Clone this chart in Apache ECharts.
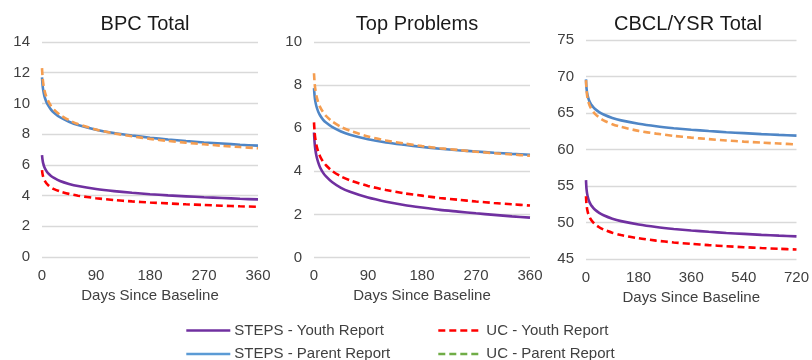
<!DOCTYPE html>
<html><head><meta charset="utf-8">
<script src="https://cdn.jsdelivr.net/npm/echarts@6/dist/echarts.min.js"></script>
<style>html,body{margin:0;padding:0;background:#fff}#c{width:812px;height:360px}</style>
</head><body><div id="c"></div>
<script>
// Panel titles
const titles = ['BPC Total', 'Top Problems', 'CBCL/YSR Total'];
const seriesNames = ['STEPS - Youth Report', 'UC - Youth Report', 'STEPS - Parent Report', 'UC - Parent Report'];
const xTicks1 = [0, 90, 180, 270, 360];
const xTicks3 = [0, 180, 360, 540, 720];

// BPC Total and Top Problems (days since baseline)
const daysA = [0, 1, 2, 4, 7, 10, 15, 20, 30, 45, 60, 90, 120, 150, 180, 210, 240, 270, 300, 330, 360];
const bpcStepsYouth  = [6.64, 6.30, 6.10, 5.85, 5.62, 5.46, 5.28, 5.15, 4.95, 4.76, 4.62, 4.43, 4.29, 4.18, 4.09, 4.01, 3.95, 3.89, 3.84, 3.79, 3.75];
const bpcUcYouth     = [5.66, 5.38, 5.21, 5.01, 4.82, 4.69, 4.53, 4.42, 4.27, 4.11, 3.99, 3.83, 3.71, 3.62, 3.55, 3.49, 3.43, 3.39, 3.34, 3.30, 3.27];
const bpcStepsParent = [11.70, 11.18, 10.87, 10.48, 10.13, 9.89, 9.60, 9.40, 9.10, 8.81, 8.59, 8.29, 8.07, 7.91, 7.77, 7.65, 7.55, 7.46, 7.39, 7.31, 7.25];
const bpcUcParent    = [12.30, 11.69, 11.33, 10.87, 10.46, 10.18, 9.84, 9.60, 9.26, 8.91, 8.66, 8.30, 8.05, 7.86, 7.69, 7.56, 7.44, 7.34, 7.24, 7.16, 7.08];

const tpStepsYouth  = [5.80, 5.34, 5.06, 4.72, 4.41, 4.19, 3.94, 3.76, 3.50, 3.23, 3.05, 2.78, 2.59, 2.44, 2.32, 2.21, 2.13, 2.05, 1.98, 1.91, 1.85];
const tpUcYouth     = [6.27, 5.82, 5.55, 5.22, 4.91, 4.70, 4.45, 4.28, 4.02, 3.76, 3.58, 3.32, 3.13, 2.98, 2.87, 2.76, 2.68, 2.60, 2.53, 2.47, 2.41];
const tpStepsParent = [7.86, 7.50, 7.28, 7.02, 6.77, 6.60, 6.40, 6.26, 6.06, 5.85, 5.70, 5.49, 5.34, 5.23, 5.13, 5.05, 4.98, 4.92, 4.86, 4.81, 4.77];
const tpUcParent    = [8.55, 8.10, 7.84, 7.50, 7.20, 6.99, 6.75, 6.57, 6.32, 6.06, 5.88, 5.62, 5.43, 5.29, 5.17, 5.07, 4.99, 4.91, 4.84, 4.78, 4.72];

// CBCL/YSR Total
const daysC = [0, 1, 2, 4, 7, 10, 15, 20, 30, 45, 60, 90, 120, 180, 240, 300, 360, 420, 480, 540, 600, 660, 720];
const cbStepsYouth  = [55.80, 54.99, 54.51, 53.92, 53.37, 52.99, 52.56, 52.24, 51.78, 51.32, 50.99, 50.52, 50.19, 49.72, 49.38, 49.12, 48.91, 48.73, 48.57, 48.44, 48.31, 48.20, 48.10];
const cbUcYouth     = [53.60, 52.83, 52.38, 51.82, 51.29, 50.94, 50.52, 50.22, 49.79, 49.35, 49.04, 48.60, 48.28, 47.84, 47.52, 47.27, 47.07, 46.90, 46.75, 46.62, 46.50, 46.40, 46.30];
const cbStepsParent = [69.60, 68.79, 68.31, 67.72, 67.17, 66.79, 66.36, 66.04, 65.58, 65.12, 64.79, 64.32, 63.99, 63.52, 63.18, 62.92, 62.71, 62.53, 62.37, 62.24, 62.11, 62.00, 61.90];
const cbUcParent    = [69.50, 68.57, 68.03, 67.35, 66.72, 66.29, 65.79, 65.43, 64.91, 64.38, 64.00, 63.47, 63.09, 62.55, 62.17, 61.87, 61.63, 61.42, 61.24, 61.08, 60.94, 60.82, 60.70];

const FONT = '"Liberation Sans", Arial, sans-serif';
const TXT = '#404040';
const colors = ['#7030a0', '#ff0000', '#4f86c6', '#f59d50'];
const legendColors = ['#7030a0', '#ff0000', '#5b9bd5', '#70ad47'];
const dashed = [false, true, false, true];

const panels = [
  {days: daysA, data: [bpcStepsYouth, bpcUcYouth, bpcStepsParent, bpcUcParent], ymin: 0, ymax: 14, yint: 2, xmax: 360, xint: 90, left: 42, top: 42, h: 215, tc: 145},
  {days: daysA, data: [tpStepsYouth, tpUcYouth, tpStepsParent, tpUcParent], ymin: 0, ymax: 10, yint: 2, xmax: 360, xint: 90, left: 314, top: 42, h: 215.5, tc: 417},
  {days: daysC, data: [cbStepsYouth, cbUcYouth, cbStepsParent, cbUcParent], ymin: 45, ymax: 75, yint: 5, xmax: 720, xint: 180, left: 586, top: 40, h: 219, tc: 688}
];

const grid = [], xAxis = [], yAxis = [], series = [], title = [];
panels.forEach((p, i) => {
  grid.push({left: p.left, top: p.top, width: 216, height: p.h});
  title.push({text: titles[i], left: p.tc, top: 14, padding: 0, textAlign: 'center',
    textStyle: {fontFamily: FONT, fontSize: 20, fontWeight: 'normal', color: '#1a1a1a'}});
  xAxis.push({type: 'value', gridIndex: i, min: 0, max: p.xmax, interval: p.xint,
    name: 'Days Since Baseline', nameLocation: 'middle', nameGap: 31,
    nameTextStyle: {fontFamily: FONT, fontSize: 15, color: TXT, verticalAlign: 'top'},
    axisLine: {show: false}, axisTick: {show: false}, splitLine: {show: false},
    axisLabel: {fontFamily: FONT, fontSize: 15, color: TXT, margin: 11}});
  yAxis.push({type: 'value', gridIndex: i, min: p.ymin, max: p.ymax, interval: p.yint,
    axisLine: {show: false}, axisTick: {show: false},
    splitLine: {lineStyle: {color: '#d9d9d9', width: 1.3}},
    axisLabel: {fontFamily: FONT, fontSize: 15, color: TXT, margin: 12}});
  const order = [0, 2, 1, 3];
  order.forEach(k => {
    series.push({
      name: seriesNames[k], type: 'line', xAxisIndex: i, yAxisIndex: i,
      data: p.days.map((d, j) => [d, p.data[k][j]]),
      smooth: 0.25, symbol: 'none', showSymbol: false,
      color: colors[k],
      lineStyle: {color: colors[k], width: 2.6, type: dashed[k] ? [7, 4] : 'solid'},
      z: 2 + k
    });
  });
});

const legendItem = k => ({name: seriesNames[k], lineStyle: {color: legendColors[k], width: 2.6, type: dashed[k] ? [7, 4] : 'solid'}, itemStyle: {opacity: 0}});
const legendBase = {orient: 'vertical', padding: 0, height: 40, itemWidth: 44, itemHeight: 14, itemGap: 8.5,
  textStyle: {fontFamily: FONT, fontSize: 15, color: TXT, padding: [0, 0, 0, -1]}, selectedMode: false};

const option = {
  animation: false,
  backgroundColor: '#fff',
  title: title,
  grid: grid, xAxis: xAxis, yAxis: yAxis, series: series,
  legend: [
    Object.assign({}, legendBase, {left: 185, top: 323, data: [legendItem(0), legendItem(2)]}),
    Object.assign({}, legendBase, {left: 437, top: 323, data: [legendItem(1), legendItem(3)]})
  ]
};
const chart = echarts.init(document.getElementById('c'), null, {renderer: 'canvas'});
chart.setOption(option);
</script></body></html>
